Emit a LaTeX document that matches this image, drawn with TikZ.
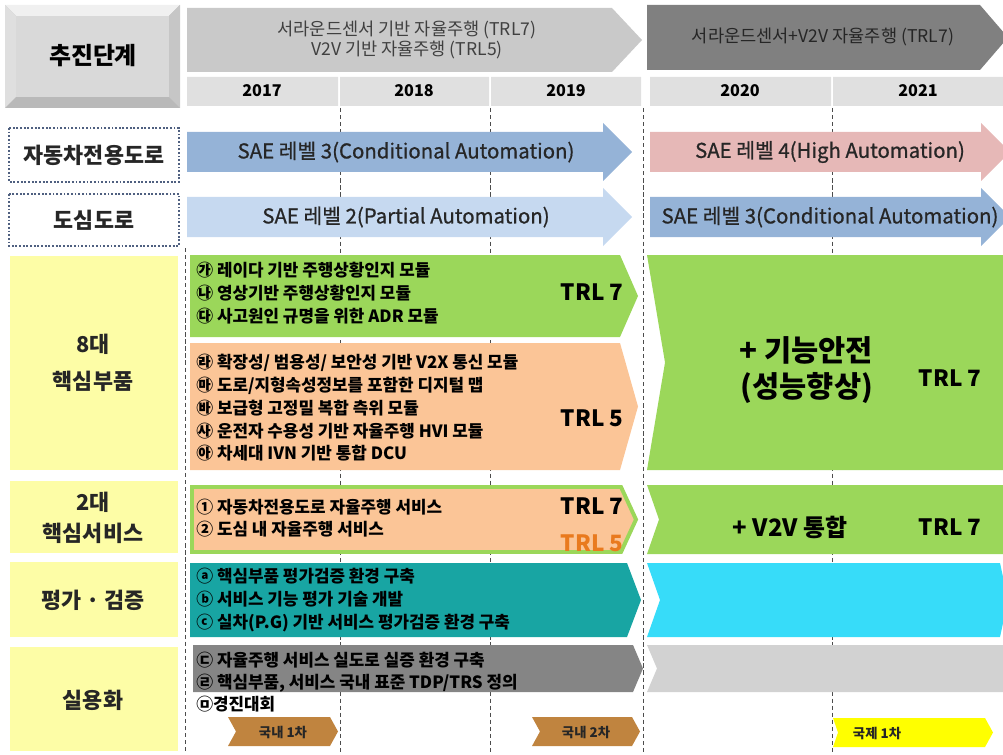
\documentclass[tikz,border=0pt]{standalone}
\usepackage{fontspec}
\setmainfont{Noto Sans CJK KR}
\usepackage{xcolor}
\usetikzlibrary{positioning}
\definecolor{c-phase1}{HTML}{C9C9C9}
\definecolor{c-phase2}{HTML}{808080}
\definecolor{c-year}{HTML}{E0E0E0}
\definecolor{c-blue}{HTML}{95B3D7}
\definecolor{c-lblue}{HTML}{C6D9F0}
\definecolor{c-pink}{HTML}{E6B8B7}
\definecolor{c-green}{HTML}{9BD75A}
\definecolor{c-peach}{HTML}{FBC597}
\definecolor{c-teal}{HTML}{18A5A3}
\definecolor{c-cyan}{HTML}{37DCF9}
\definecolor{c-gray}{HTML}{858585}
\definecolor{c-lgray}{HTML}{D2D2D2}
\definecolor{c-brown}{HTML}{C0843F}
\definecolor{c-yellow}{HTML}{FFFF00}
\definecolor{c-label}{HTML}{FDFDA6}
\definecolor{c-dots}{HTML}{4F6080}
\definecolor{c-trl5}{HTML}{E97A1E}
% chevron band: style, x1, y1, x2, y2, tip depth, notch depth
\newcommand{\chev}[7]{%
  \path[#1] (#2,#3) -- (#4-#6,#3) -- (#4,{(#3+#5)/2}) -- (#4-#6,#5) -- (#2,#5)
    -- (#2+#7,{(#3+#5)/2}) -- cycle;}
% block arrow: colour, x1, tip x, mid y
\newcommand{\band}[4]{%
  \fill[#1] (#2,#4-20) -- (#3-29,#4-20) -- (#3-29,#4-29) -- (#3,#4)
    -- (#3-29,#4+29) -- (#3-29,#4+20) -- (#2,#4+20) -- cycle;}

\begin{document}
\begin{tikzpicture}[x=0.025cm, y=-0.025cm,
  guide/.style={densely dashed, gray!60!black, line width=0.5pt},
  dotbox/.style={draw=c-dots, line width=1.5pt, dash pattern=on 1.3pt off 1.3pt},
  lbl/.style={font=\bfseries\fontsize{15.5}{26}\selectfont, align=center, text=black!85},
  yr/.style={font=\bfseries\fontsize{11.5}{13}\selectfont},
  sae/.style={font=\fontsize{14.5}{16}\selectfont\addfontfeatures{FakeBold=0.8}, text=black!85},
  phase/.style={align=center, text=black!75, font=\fontsize{12.5}{14.5}\selectfont},
  itm/.style={anchor=west, inner sep=0pt, align=left, font=\bfseries\fontsize{12}{16.2}\selectfont},
  trl/.style={font=\bfseries\fontsize{16}{18}\selectfont},
  big/.style={font=\bfseries\fontsize{21}{26}\selectfont, align=right},
  tag/.style={font=\bfseries\fontsize{9.5}{11}\selectfont, text=black!85}]
  \useasboundingbox (0,0) rectangle (1003,754);
  \clip (0,0) rectangle (1003,754);

  \foreach \gx/\gy in {185/248, 340/108, 490/108, 643/108, 832/108}
    \draw[guide] (\gx,\gy) -- (\gx,754);

  \fill[gray!55] (5,5) rectangle (180,108);
  \fill[gray!12] (5,5) -- (180,5) -- (169,16) -- (16,16) -- cycle;
  \fill[gray!25] (5,5) -- (16,16) -- (16,97) -- (5,108) -- cycle;
  \fill[gray!45] (180,5) -- (169,16) -- (169,97) -- (180,108) -- cycle;
  \fill[gray!30] (16,16) rectangle (169,97);
  \node[font=\bfseries\fontsize{17}{19}\selectfont] (stage) at (93,56) {추진단계};

  \chev{fill=c-phase1}{187}{8}{642}{72}{30}{0}
  \node[phase] (phase1) at (407,40) {서라운드센서 기반 자율주행 (TRL7)\\V2V 기반 자율주행 (TRL5)};
  \chev{fill=c-phase2}{647}{5}{1008}{70}{28}{0}
  \node[phase, text=black!85] (phase2) at (823,37) {서라운드센서+V2V 자율주행 (TRL7)};

  \fill[c-year] (187,77) rectangle (338,106) (340,77) rectangle (489,106)
    (491,77) rectangle (641,106) (650,77) rectangle (831,106) (833,77) rectangle (1003,106);
  \foreach \yx/\yv in {262/2017, 414/2018, 566/2019, 740/2020, 918/2021}
    \node[yr] (y\yv) at (\yx,91) {\yv};

  \draw[dotbox] (9,128) rectangle (179,182);
  \node[lbl] (highway) at (94,155) {자동차전용도로};
  \draw[dotbox] (9,194) rectangle (179,246);
  \node[lbl] (urban) at (94,220) {도심도로};

  \band{c-blue}{187}{632}{152}
  \band{c-pink}{650}{1010}{152}
  \band{c-lblue}{187}{632}{217}
  \band{c-blue}{650}{1010}{217}
  \node[sae] (hw-l3) at (406,152) {SAE 레벨 3(Conditional Automation)};
  \node[sae] (hw-l4) at (830,152) {SAE 레벨 4(High Automation)};
  \node[sae] (ur-l2) at (406,217) {SAE 레벨 2(Partial Automation)};
  \node[sae] (ur-l3) at (830,217) {SAE 레벨 3(Conditional Automation)};

  \fill[c-label] (10,256) rectangle (178,470);
  \fill[c-label] (10,481) rectangle (178,553);
  \fill[c-label] (10,562) rectangle (178,637);
  \fill[c-label] (10,647) rectangle (178,751);
  \node[lbl] (parts) at (93,363) {8대\\핵심부품};
  \node[lbl, font=\bfseries\fontsize{15.5}{22}\selectfont] (services) at (93,518) {2대\\핵심서비스};
  \node[lbl] (verify) at (93,600) {평가 · 검증};
  \node[lbl] (deploy) at (93,700) {실용화};

  \chev{fill=c-green}{190}{255}{638}{337}{18}{0}
  \chev{fill=c-peach}{190}{343}{638}{470}{18}{0}
  \chev{fill=c-green}{647}{255}{1003}{470}{0}{18}
  \node[itm] (parts-a) at (196,293)
    {㉮ 레이다 기반 주행상황인지 모듈\\㉯ 영상기반 주행상황인지 모듈\\㉰ 사고원인 규명을 위한 ADR 모듈};
  \node[trl] (parts-trl7) at (592,292) {TRL 7};
  \node[itm] (parts-b) at (196,408)
    {㉱ 확장성/ 범용성/ 보안성 기반 V2X 통신 모듈\\㉲ 도로/지형속성정보를 포함한 디지털 맵\\㉳ 보급형 고정밀 복합 측위 모듈\\㉴ 운전자 수용성 기반 자율주행 HVI 모듈\\㉵ 차세대 IVN 기반 통합 DCU};
  \node[trl] (parts-trl5) at (592,418) {TRL 5};
  \node[big, anchor=east] (safety) at (878,370) {+ 기능안전\\(성능향상)};
  \node[trl] (safety-trl) at (950,378) {TRL 7};

  \chev{fill=c-peach, draw=c-green, line width=2.8pt, line join=miter}{192}{487}{636}{552}{15}{0}
  \chev{fill=c-green}{647}{485}{1003}{554}{0}{12}
  \node[itm] (svc) at (196,518) {① 자동차전용도로 자율주행 서비스\\② 도심 내 자율주행 서비스};
  \node[trl] (svc-trl7) at (592,506) {TRL 7};
  \node[trl, text=c-trl5] (svc-trl5) at (592,543) {TRL 5};
  \node[trl, font=\bfseries\fontsize{17}{19}\selectfont] (v2v) at (790,527) {+ V2V 통합};
  \node[trl] (v2v-trl) at (950,527) {TRL 7};

  \chev{fill=c-teal}{190}{563}{641}{637}{14}{0}
  \chev{fill=c-cyan}{647}{563}{1008}{637}{8}{13}
  \node[itm] (eval) at (196,600)
    {ⓐ 핵심부품 평가검증 환경 구축\\ⓑ 서비스 기능 평가 기술 개발\\ⓒ 실차(P.G) 기반 서비스 평가검증 환경 구축};

  \chev{fill=c-gray}{193}{645}{643}{692}{10}{0}
  \chev{fill=c-lgray}{647}{645}{1003}{692}{0}{10}
  \node[itm, font=\bfseries\fontsize{12}{15.6}\selectfont] (field) at (196,682)
    {㉢ 자율주행 서비스 실도로 실증 환경 구축\\㉣ 핵심부품, 서비스 국내 표준 TDP/TRS 정의\\㉤경진대회};

  \chev{fill=c-brown}{228}{717}{338}{746}{8}{8}
  \chev{fill=c-brown}{532}{717}{640}{746}{8}{8}
  \chev{fill=c-yellow}{833}{718}{993}{747}{8}{5}
  \node[tag] (race1) at (283,732) {국내 1차};
  \node[tag] (race2) at (586,732) {국내 2차};
  \node[tag] (race3) at (877,733) {국제 1차};
\end{tikzpicture}
\end{document}
